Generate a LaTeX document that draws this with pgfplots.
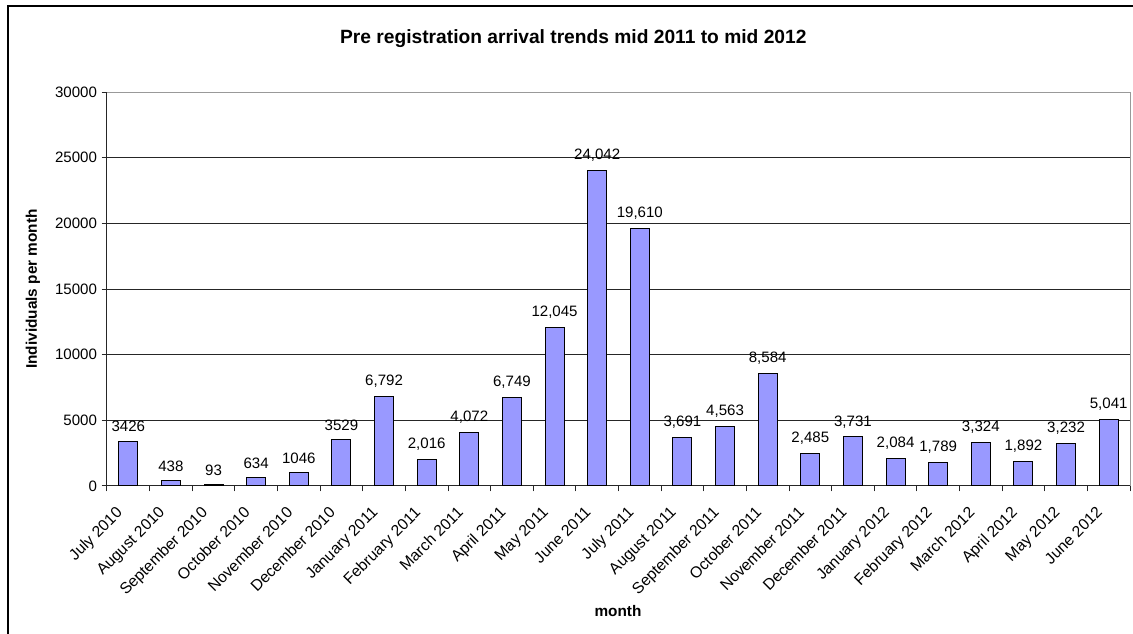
\documentclass[border=0pt]{standalone}
\usepackage{pgfplots}
\pgfplotsset{compat=1.18}
\usepackage{fontspec}
\setmainfont{Liberation Sans}
\definecolor{barblue}{RGB}{153,153,255}
\pgfplotstableread{
x y lab
0 3426 3426
1 438 438
2 93 93
3 634 634
4 1046 1046
5 3529 3529
6 6792 6,792
7 2016 2,016
8 4072 4,072
9 6749 6,749
10 12045 12,045
11 24042 24,042
12 19610 19,610
13 3691 3,691
14 4563 4,563
15 8584 8,584
16 2485 2,485
17 3731 3,731
18 2084 2,084
19 1789 1,789
20 3324 3,324
21 1892 1,892
22 3232 3,232
23 5041 5,041
}\datatable
\begin{document}
\begin{tikzpicture}[x=1pt,y=1pt]
\useasboundingbox (0,0) rectangle (849.75,-475.5);
\draw[line width=1pt] (6,-475.5) -- (6,-4.5) -- (849.75,-4.5);
\begin{axis}[
  at={(80.25pt,-364.5pt)}, anchor=south west,
  width=767.25pt, height=295.5pt, scale only axis,
  xmin=-0.5, xmax=23.5, ymin=0, ymax=30000,
  xtick={-0.5,0.5,...,23.5}, x tick label as interval,
  xticklabels={July 2010,August 2010,September 2010,October 2010,November 2010,December 2010,January 2011,February 2011,March 2011,April 2011,May 2011,June 2011,July 2011,August 2011,September 2011,October 2011,November 2011,December 2011,January 2012,February 2012,March 2012,April 2012,May 2012,June 2012},
  ytick={0,5000,...,30000},
  scaled y ticks=false,
  yticklabel style={/pgf/number format/1000 sep={}},
  /pgf/number format/assume math mode=true,
  ymajorgrids, grid style={black!85, line width=0.75pt},
  axis lines*=left, axis line style={black!85, line width=0.75pt},
  tick align=outside, major tick length=4pt, tick style={black!85, line width=0.75pt},
  ybar, bar width=14.25pt,
  nodes near coords, point meta=explicit symbolic,
  every node near coord/.append style={font=\fontsize{11.3}{13}\selectfont, black, yshift=3pt},
  tick label style={font=\fontsize{11.3}{13}\selectfont, black},
  xticklabel style={font=\fontsize{11.8}{13}\selectfont, xshift=-10pt, yshift=-9pt, rotate=45, anchor=north east, inner sep=1pt},
  clip=false,
]
\addplot[fill=barblue, draw=black, line width=0.75pt] table[x=x, y=y, meta=lab] {\datatable};
\draw[gray!80, line width=0.75pt] (rel axis cs:0,1) -- (rel axis cs:1,1) -- (rel axis cs:1,0);
\end{axis}
\node[font=\fontsize{14.4}{17}\selectfont\bfseries] at (430,-29.25) {Pre registration arrival trends mid 2011 to mid 2012};
\node[font=\fontsize{11.5}{14}\selectfont\bfseries, rotate=90] at (24.75,-216.75) {Individuals per month};
\node[font=\fontsize{11.5}{14}\selectfont\bfseries] at (463.5,-458.25) {month};
\end{tikzpicture}
\end{document}
